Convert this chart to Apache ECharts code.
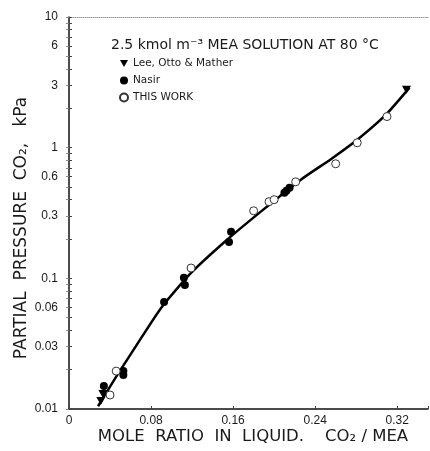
<!DOCTYPE html>
<html>
<head>
<meta charset="utf-8">
<script src="https://cdn.jsdelivr.net/npm/echarts@6/dist/echarts.min.js"></script>
<style>
  html, body { margin: 0; padding: 0; background: #fff; }
  #chart { width: 430px; height: 451px; }
</style>
</head>
<body>
<div id="chart"></div>
<script>
// tick labels
const xTicks = [0, 0.08, 0.16, 0.24, 0.32];
const yTicks = [0.01, 0.03, 0.06, 0.1, 0.3, 0.6, 1, 3, 6, 10];
const yMinor = [0.02, 0.04, 0.05, 0.07, 0.08, 0.09, 0.2, 0.4, 0.5, 0.7, 0.8, 0.9, 2, 4, 5, 7, 8, 9];

// fitted curve
const curveX = [0.0283, 0.0459, 0.0654, 0.0898, 0.119, 0.153, 0.187, 0.226, 0.256, 0.281, 0.309, 0.332];
const curveY = [0.0105, 0.0176, 0.0304, 0.0594, 0.110, 0.194, 0.324, 0.569, 0.824, 1.15, 1.79, 2.88];

// Lee, Otto & Mather
const leeX = [0.031, 0.033, 0.329];
const leeY = [0.0115, 0.0130, 2.78];

// Nasir
const nasirX = [0.034, 0.053, 0.053, 0.0927, 0.112, 0.113, 0.156, 0.158, 0.210, 0.212, 0.215];
const nasirY = [0.0150, 0.0195, 0.0182, 0.066, 0.101, 0.089, 0.190, 0.227, 0.452, 0.468, 0.493];

// this work
const workX = [0.040, 0.046, 0.119, 0.180, 0.195, 0.200, 0.221, 0.260, 0.281, 0.310];
const workY = [0.0128, 0.0195, 0.120, 0.329, 0.386, 0.40, 0.548, 0.753, 1.09, 1.73];

const pairs = (xs, ys) => xs.map((x, i) => [x, ys[i]]);
const downTri = 'path://M0,0 L10,0 L5,9 Z';
const txt = '#1a1a1a';

const chart = echarts.init(document.getElementById('chart'));

const option = {
  animation: false,
  grid: { left: 69, right: 2, top: 17, bottom: 42 },
  title: {
    text: '2.5 kmol m⁻³ MEA SOLUTION AT 80 °C',
    left: 106, top: 33,
    textStyle: { fontFamily: 'DejaVu Sans', fontSize: 14, fontWeight: 'normal', color: txt }
  },
  legend: {
    data: ['Lee, Otto & Mather', 'Nasir', 'THIS WORK'],
    orient: 'vertical',
    left: 114, top: 53,
    itemWidth: 8, itemHeight: 8, itemGap: 6,
    textStyle: { fontFamily: 'DejaVu Sans', fontSize: 10.5, color: txt }
  },
  xAxis: [{
    type: 'value', min: 0, max: 0.35, interval: 0.08,
    axisLine: { lineStyle: { color: '#111', width: 1.5 } },
    axisTick: { inside: true, length: 3, lineStyle: { color: '#444' } },
    axisLabel: {
      customValues: xTicks,
      fontFamily: 'Liberation Sans', fontSize: 12, color: txt, margin: 6
    },
    splitLine: { show: false }
  }, {
    type: 'value', min: 0, max: 0.35, position: 'top',
    axisLine: { lineStyle: { color: '#999', type: 'dotted' } },
    axisTick: { show: false }, axisLabel: { show: false }, splitLine: { show: false }
  }],
  yAxis: [{
    type: 'log', min: 0.01, max: 10, logBase: 10,
    axisLine: { lineStyle: { color: '#111', width: 1.5 } },
    axisTick: { inside: true, length: 3, customValues: yTicks.concat(yMinor), lineStyle: { color: '#444' } },
    axisLabel: {
      customValues: yTicks,
      formatter: v => String(+v.toPrecision(3)),
      fontFamily: 'Liberation Sans', fontSize: 12, color: txt, margin: 11
    },
    splitLine: { show: false }
  }, {
    type: 'log', min: 0.01, max: 10, logBase: 10, position: 'right',
    axisLine: { show: false },
    axisTick: { inside: true, length: 3, customValues: yTicks.concat(yMinor), lineStyle: { color: '#888' } },
    axisLabel: { show: false }, splitLine: { show: false }
  }],
  graphic: [{
    type: 'text', x: 22, y: 228, rotation: Math.PI / 2,
    style: {
      text: 'PARTIAL  PRESSURE  CO₂,   kPa',
      font: '17px "DejaVu Sans"', fill: txt, align: 'center', verticalAlign: 'middle'
    }
  }, {
    type: 'text', x: 253, y: 437,
    style: {
      text: 'MOLE  RATIO  IN  LIQUID.    CO₂ / MEA',
      font: '16.5px "DejaVu Sans"', fill: txt, align: 'center', verticalAlign: 'middle'
    }
  }],
  series: [{
    name: 'curve', type: 'line', smooth: 0.2, showSymbol: false,
    data: pairs(curveX, curveY),
    lineStyle: { color: '#000', width: 2.5 }, z: 2
  }, {
    name: 'Lee, Otto & Mather', type: 'scatter', symbol: downTri, symbolSize: [9, 8],
    data: pairs(leeX, leeY),
    itemStyle: { color: '#000', opacity: 1 }, z: 3
  }, {
    name: 'Nasir', type: 'scatter', symbol: 'circle', symbolSize: 8,
    data: pairs(nasirX, nasirY),
    itemStyle: { color: '#000', opacity: 1 }, z: 3
  }, {
    name: 'THIS WORK', type: 'scatter', symbol: 'circle', symbolSize: 8,
    data: pairs(workX, workY),
    itemStyle: { color: '#fff', borderColor: '#333', borderWidth: 1, opacity: 1 }, z: 4
  }]
};

chart.setOption(option);
</script>
</body>
</html>
